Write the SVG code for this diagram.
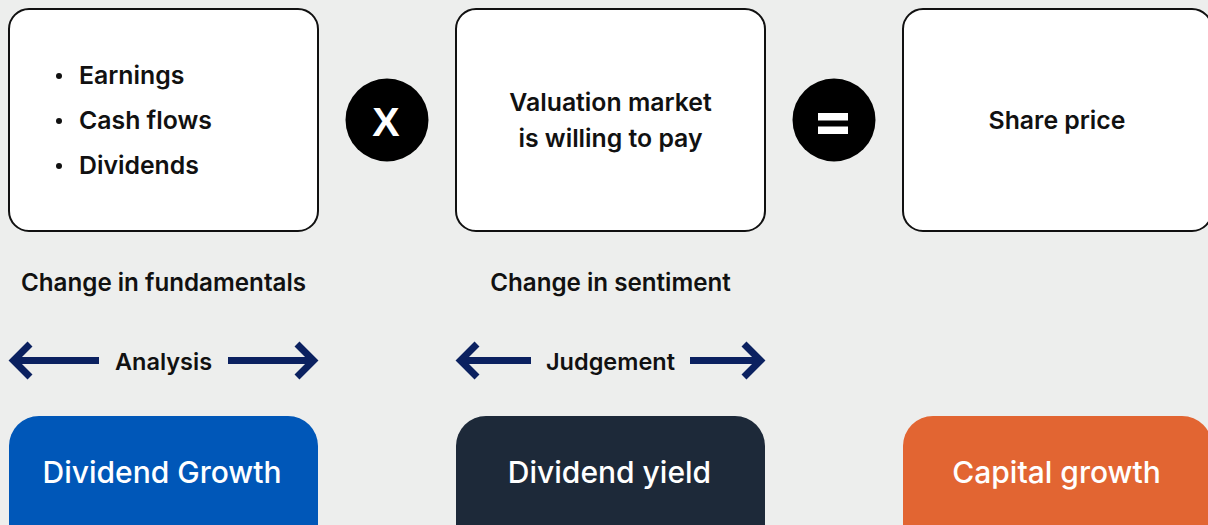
<svg xmlns="http://www.w3.org/2000/svg" width="1208" height="525" viewBox="0 0 1208 525">
  <style>
    .box { fill: #ffffff; stroke: #111111; stroke-width: 2; }
    .txt { font-family: Inter, "Liberation Sans", sans-serif; font-weight: 600; fill: #111111; }
    .in { font-size: 24.8px; }
    .lbl { font-size: 24.2px; text-anchor: middle; }
    .lbl2 { font-size: 23.5px; text-anchor: middle; }
    .pill { font-size: 30px; font-weight: 500; text-anchor: middle; fill: #ffffff; }
    .arrow { fill: none; stroke: #0b2160; stroke-width: 7; stroke-linejoin: miter; stroke-linecap: butt; }
    .op { fill: #000000; }
  </style>
  <rect width="1208" height="525" fill="#edeeed"/>

  <!-- top row: fundamentals x valuation = price -->
  <g id="fundamentals">
    <rect class="box" x="9" y="9" width="309" height="222" rx="20"/>
    <circle cx="59" cy="76" r="3" fill="#111"/>
    <circle cx="59" cy="121" r="3" fill="#111"/>
    <circle cx="59" cy="166" r="3" fill="#111"/>
    <text class="txt in" x="79" y="84">Earnings</text>
    <text class="txt in" x="79" y="129">Cash flows</text>
    <text class="txt in" x="79" y="174">Dividends</text>
  </g>

  <g id="times">
    <circle class="op" cx="387" cy="120" r="41.5"/>
    <text x="386" y="136" font-family="'Liberation Sans', sans-serif" font-weight="bold" font-size="41" fill="#ffffff" text-anchor="middle">X</text>
  </g>

  <g id="valuation">
    <rect class="box" x="456" y="9" width="309" height="222" rx="20"/>
    <text class="txt in" x="610.5" y="111" text-anchor="middle">Valuation market</text>
    <text class="txt in" x="610.5" y="147" text-anchor="middle">is willing to pay</text>
  </g>

  <g id="equals">
    <circle class="op" cx="834" cy="120" r="41.5"/>
    <rect x="818" y="113" width="30" height="7.5" fill="#ffffff"/>
    <rect x="818" y="126.5" width="30" height="7.5" fill="#ffffff"/>
  </g>

  <g id="share-price">
    <rect class="box" x="903" y="9" width="309" height="222" rx="20"/>
    <text class="txt in" x="1057" y="129" text-anchor="middle">Share price</text>
  </g>

  <!-- middle row labels -->
  <g id="change-fundamentals">
    <text class="txt lbl" x="163.5" y="291">Change in fundamentals</text>
  </g>
  <g id="change-sentiment">
    <text class="txt lbl" x="610.5" y="291">Change in sentiment</text>
  </g>
  <g id="analysis">
    <text class="txt lbl2" x="163.5" y="369.5">Analysis</text>
  </g>
  <g id="judgement">
    <text class="txt lbl2" x="610.5" y="369.5">Judgement</text>
  </g>

  <!-- double-headed arrows either side of the labels -->
  <g id="connectors">
    <path class="arrow" d="M99 360.5 H13 M30 344 L13.5 360.5 L30 377"/>
    <path class="arrow" d="M228 360.5 H313 M297 344 L313.5 360.5 L297 377"/>
    <path class="arrow" d="M531 360.5 H462 M477 344 L460.5 360.5 L477 377"/>
    <path class="arrow" d="M690 360.5 H760 M744 344 L760.5 360.5 L744 377"/>
  </g>

  <!-- bottom row outcomes -->
  <g id="dividend-growth">
    <rect x="9" y="416" width="309" height="140" rx="30" fill="#0057b8"/>
    <text class="txt pill" x="162" y="482.5">Dividend Growth</text>
  </g>
  <g id="dividend-yield">
    <rect x="456" y="416" width="309" height="140" rx="30" fill="#1d2939"/>
    <text class="txt pill" x="609.5" y="482.5">Dividend yield</text>
  </g>
  <g id="capital-growth">
    <rect x="903" y="416" width="309" height="140" rx="30" fill="#e26532"/>
    <text class="txt pill" x="1056.5" y="482.5">Capital growth</text>
  </g>
</svg>
